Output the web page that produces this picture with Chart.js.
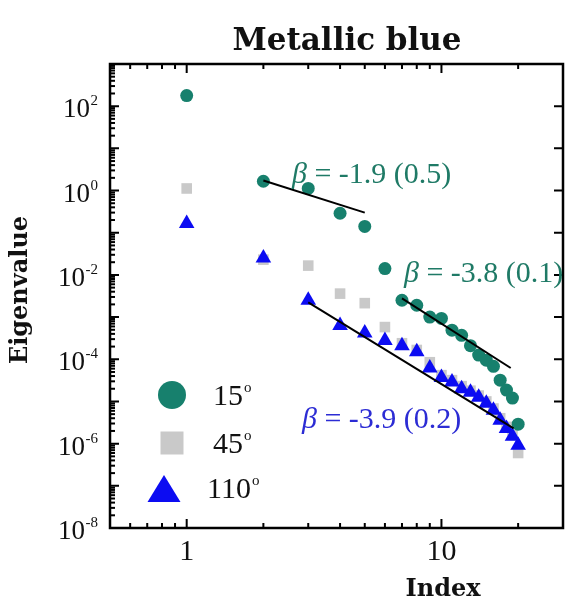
<!DOCTYPE html>
<html>
<head>
<meta charset="utf-8">
<script src="https://cdn.jsdelivr.net/npm/chart.js@4/dist/chart.umd.min.js"></script>
<style>
  html, body { margin: 0; padding: 0; background: #fff; overflow: hidden; }
  #wrap { width: 572px; height: 602px; }
</style>
</head>
<body>
<div id="wrap"><canvas id="c" width="572" height="602"></canvas></div>
<script>
// ---- data ----
const indexValues = [1,2,3,4,5,6,7,8,9,10,11,12,13,14,15,16,17,18,19,20];
const eig15 = [178, 1.66, 1.12, 0.29, 0.141, 0.0141, 0.00251, 0.00191, 0.00100, 0.00093,
               4.9e-4, 3.7e-4, 2.1e-4, 1.26e-4, 9.5e-5, 6.8e-5, 3.2e-5, 1.86e-5, 1.2e-5, 2.9e-6];
const eig45 = [1.12, 0.023, 0.0166, 0.0036, 0.00214, 5.8e-4, 2.4e-4, 1.66e-4, 8.5e-5, 4.2e-5,
               3.2e-5, 2.3e-5, 1.8e-5, 1.38e-5, 1.0e-5, 6.8e-6, 4.0e-6, 2.5e-6, 1.6e-6, 6.0e-7];
const eig110 = [0.166, 0.025, 0.0025, 6.3e-4, 4.2e-4, 2.8e-4, 2.1e-4, 1.5e-4, 6.2e-5, 3.7e-5,
                2.9e-5, 2.0e-5, 1.66e-5, 1.26e-5, 9.1e-6, 6.2e-6, 3.6e-6, 2.3e-6, 1.5e-6, 9.1e-7];
const fit1X = [2, 5],    fit1Y = [1.73, 0.30];
const fit2X = [7, 18.7], fit2Y = [0.00278, 6.2e-5];
const fit3X = [3, 19.2], fit3Y = [0.00224, 2.3e-6];
const seriesLabels = ['15', '45', '110'];
const fitLabels = ['\u03B2', ' = -1.9 (0.5)', ' = -3.8 (0.1)', ' = -3.9 (0.2)'];
const yTickExponents = [2, 0, -2, -4, -6, -8];
const xTickLabels = [1, 10];
const chartTitle = 'Metallic blue';
const xTitle = 'Index';
const yTitle = 'Eigenvalue';

const TEAL = '#17806d', TEAL_TXT = '#1f7a66', GRAY = '#c9c9c9', BLUE = '#0c0cf2', BLUE_TXT = '#2c2cd4';
const toXY = (xs, ys) => xs.map((x, i) => ({x: x, y: ys[i]}));

const SERIF = '"Liberation Serif", "Times New Roman", serif';
const WIDE = '"DejaVu Serif", serif';

const decorPlugin = {
  id: 'decor',
  afterDraw(chart) {
    const ctx = chart.ctx;
    const xs = chart.scales.x, ys = chart.scales.y;
    const a = chart.chartArea;
    ctx.save();
    // frame
    ctx.strokeStyle = '#000';
    ctx.lineWidth = 2.5;
    ctx.beginPath();
    ctx.rect(a.left, a.top, a.right - a.left, a.bottom - a.top);
    ctx.stroke();
    // ticks
    ctx.lineWidth = 2;
    const yMinE = -8, yMaxE = 3;
    for (let e = yMinE; e <= yMaxE; e++) {
      const py = ys.getPixelForValue(Math.pow(10, e));
      ctx.beginPath();
      ctx.moveTo(a.left, py); ctx.lineTo(a.left + 9, py);
      ctx.moveTo(a.right, py); ctx.lineTo(a.right - 9, py);
      ctx.stroke();
      if (e < yMaxE) {
        for (let m = 2; m <= 9; m++) {
          const pm = ys.getPixelForValue(m * Math.pow(10, e));
          ctx.beginPath();
          ctx.moveTo(a.left, pm); ctx.lineTo(a.left + 5, pm);
          ctx.stroke();
        }
      }
    }
    const xMinor = [0.6,0.7,0.8,0.9,2,3,4,5,6,7,8,9,20,30];
    const xMajor = [1,10];
    xMajor.forEach(v => {
      const px = xs.getPixelForValue(v);
      ctx.beginPath();
      ctx.moveTo(px, a.bottom); ctx.lineTo(px, a.bottom - 9);
      ctx.moveTo(px, a.top); ctx.lineTo(px, a.top + 9);
      ctx.stroke();
    });
    xMinor.forEach(v => {
      const px = xs.getPixelForValue(v);
      ctx.beginPath();
      ctx.moveTo(px, a.bottom); ctx.lineTo(px, a.bottom - 5);
      ctx.moveTo(px, a.top); ctx.lineTo(px, a.top + 5);
      ctx.stroke();
    });
    // y tick labels
    ctx.fillStyle = '#111';
    yTickExponents.forEach(e => {
      const py = ys.getPixelForValue(Math.pow(10, e));
      ctx.font = '15px ' + SERIF;
      const es = String(e);
      const ew = ctx.measureText(es).width;
      ctx.textAlign = 'left'; ctx.textBaseline = 'alphabetic';
      ctx.fillText(es, 98 - ew, py - 1);
      ctx.font = '27px ' + SERIF;
      ctx.textAlign = 'right';
      ctx.fillText('10', 98 - ew - 0.5, py + 11);
    });
    // x tick labels
    ctx.font = '30px ' + SERIF;
    ctx.textAlign = 'center';
    xTickLabels.forEach(v => {
      ctx.fillText(String(v), xs.getPixelForValue(v), 560);
    });
    // titles
    ctx.font = 'bold 31px ' + WIDE;
    ctx.fillText(chartTitle, 347, 50);
    ctx.font = 'bold 24px ' + WIDE;
    ctx.fillText(xTitle, 443, 596);
    ctx.save();
    ctx.translate(21, 290);
    ctx.rotate(-Math.PI / 2);
    ctx.textBaseline = 'middle';
    ctx.fillText(yTitle, 0, 0);
    ctx.restore();
    // legend
    ctx.fillStyle = TEAL;
    ctx.beginPath(); ctx.arc(172, 395, 14, 0, Math.PI * 2); ctx.fill();
    ctx.fillStyle = GRAY;
    ctx.fillRect(160.5, 431.5, 23, 23);
    ctx.fillStyle = BLUE;
    ctx.beginPath(); ctx.moveTo(164, 475); ctx.lineTo(180.5, 502); ctx.lineTo(147.5, 502); ctx.closePath(); ctx.fill();
    ctx.fillStyle = '#111';
    const legY = [405, 453, 498], legX = [213, 213, 207];
    seriesLabels.forEach((s, i) => {
      ctx.font = '30px ' + SERIF;
      ctx.textAlign = 'left';
      ctx.fillText(s, legX[i], legY[i]);
      const w = ctx.measureText(s).width;
      ctx.font = '15px ' + SERIF;
      ctx.fillText('o', legX[i] + w + 1, legY[i] - 13);
    });
    // fit annotations
    const ann = [
      {x: 292, y: 183, txt: fitLabels[1], col: TEAL_TXT},
      {x: 404, y: 282, txt: fitLabels[2], col: TEAL_TXT},
      {x: 302, y: 428, txt: fitLabels[3], col: BLUE_TXT}
    ];
    ann.forEach(o => {
      ctx.fillStyle = o.col;
      ctx.textAlign = 'left';
      ctx.font = 'italic 30px ' + SERIF;
      ctx.fillText(fitLabels[0], o.x, o.y);
      const bw = ctx.measureText(fitLabels[0]).width;
      ctx.font = '30px ' + SERIF;
      ctx.fillText(o.txt, o.x + bw, o.y);
    });
    ctx.restore();
  }
};

new Chart(document.getElementById('c'), {
  type: 'scatter',
  data: {
    datasets: [
      {label: 'fit1', data: toXY(fit1X, fit1Y), showLine: true, borderColor: '#000', borderWidth: 2, pointRadius: 0, order: 0},
      {label: 'fit2', data: toXY(fit2X, fit2Y), showLine: true, borderColor: '#000', borderWidth: 2, pointRadius: 0, order: 0},
      {label: 'fit3', data: toXY(fit3X, fit3Y), showLine: true, borderColor: '#000', borderWidth: 2, pointRadius: 0, order: 0},
      {label: '15\u00B0', data: toXY(indexValues, eig15), pointStyle: 'circle', pointRadius: 6.5, backgroundColor: TEAL, borderWidth: 0, order: 1},
      {label: '110\u00B0', data: toXY(indexValues, eig110), pointStyle: 'triangle', pointRadius: 9, backgroundColor: BLUE, borderWidth: 0, order: 2},
      {label: '45\u00B0', data: toXY(indexValues, eig45), pointStyle: 'rect', pointRadius: 7.5, backgroundColor: GRAY, borderWidth: 0, order: 3}
    ]
  },
  options: {
    responsive: false,
    devicePixelRatio: 1,
    animation: false,
    events: [],
    layout: {padding: {left: 110, top: 64, right: 1, bottom: 74}},
    plugins: {legend: {display: false}, tooltip: {enabled: false}, title: {display: false}},
    scales: {
      x: {type: 'logarithmic', min: 0.5, max: 30, display: false},
      y: {type: 'logarithmic', min: 1e-8, max: 1e3, display: false}
    }
  },
  plugins: [decorPlugin]
});
</script>
</body>
</html>
